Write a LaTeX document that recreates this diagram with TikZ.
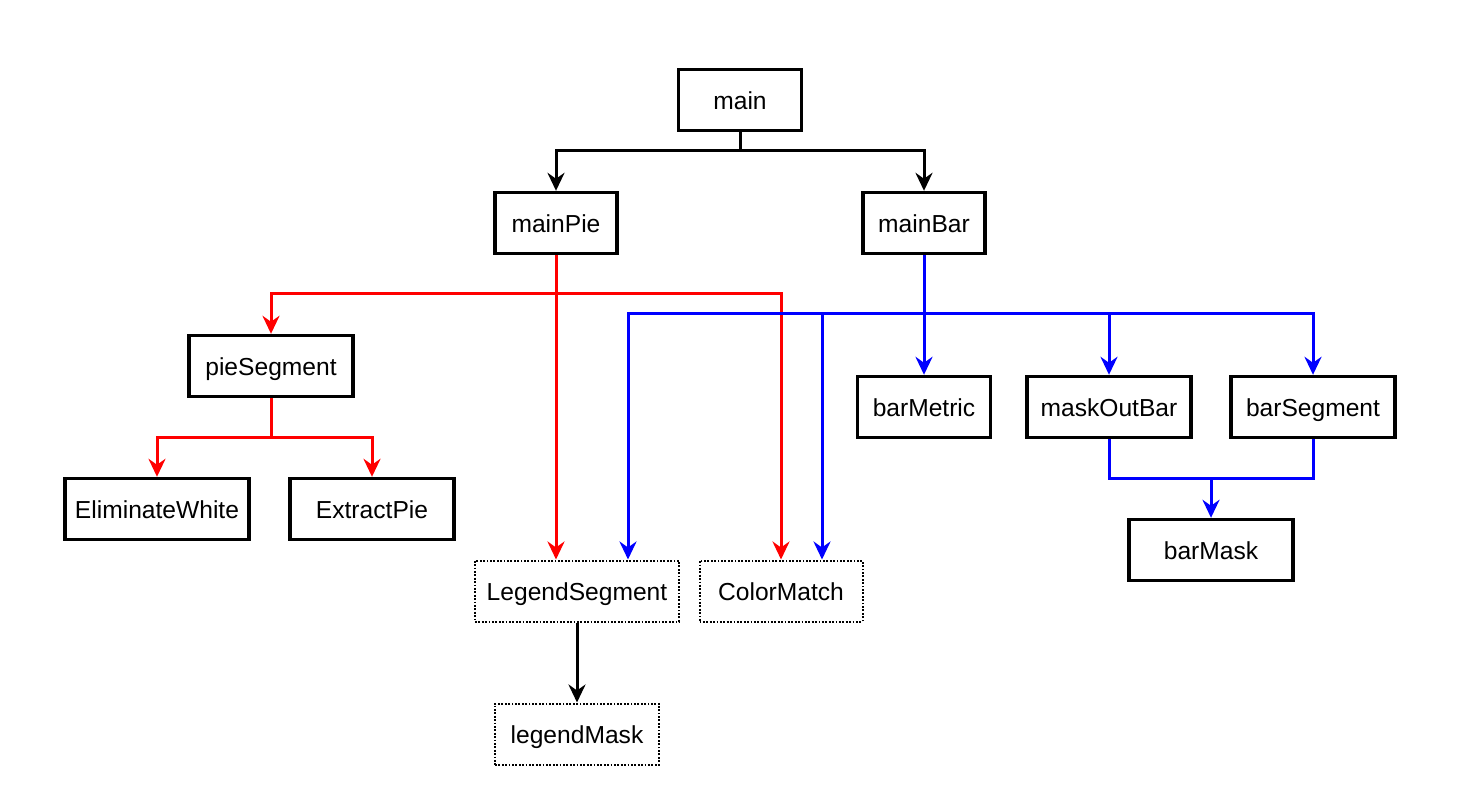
\documentclass[tikz,border=0pt]{standalone}
\usepackage{fontspec}
\setmainfont{Liberation Sans}
\usetikzlibrary{arrows.meta,calc}
\begin{document}
\begin{tikzpicture}[x=1pt,y=-1pt,
  txt/.style={inner sep=0pt,minimum height=61pt,text height=18.6pt,text depth=0pt,font=\fontsize{24.6}{29}\selectfont},
  box/.style={txt,draw=black,line width=3.4pt},
  dbox/.style={txt,draw=black,line width=2pt,dash pattern=on 1.8pt off 1.6pt},
  conn/.style={line width=3pt,-{Stealth[length=18pt,width=17pt,inset=6pt]}},
  plain/.style={line width=3pt},
  redc/.style={draw=red},
  bluec/.style={draw=blue}]
\useasboundingbox (0,0) rectangle (1478,810);
\node[box,minimum width=123pt] (main) at (740,100) {main};
\node[box,minimum width=122pt] (mainPie) at (556,223) {mainPie};
\node[box,minimum width=122pt] (mainBar) at (924,223) {mainBar};
\node[box,minimum width=164pt] (pieSegment) at (271,366) {pieSegment};
\node[box,minimum width=184pt] (EliminateWhite) at (157,509) {EliminateWhite};
\node[box,minimum width=164pt] (ExtractPie) at (372,509) {ExtractPie};
\node[dbox,minimum width=204pt] (LegendSegment) at (577,591) {LegendSegment};
\node[dbox,minimum width=163pt] (ColorMatch) at (781,591) {ColorMatch};
\node[dbox,minimum width=164pt] (legendMask) at (577,734) {legendMask};
\node[box,minimum width=133pt] (barMetric) at (924,407) {barMetric};
\node[box,minimum width=164pt] (maskOutBar) at (1109,407) {maskOutBar};
\node[box,minimum width=164pt] (barSegment) at (1313,407) {barSegment};
\node[box,minimum width=164pt] (barMask) at (1211,550) {barMask};

\coordinate (j1) at (740,151);
\coordinate (r1) at (556,294);
\coordinate (b1) at (924,314);
\coordinate (p1) at (271,437);
\coordinate (m1) at (1211,478);

% black
\draw[plain] (main.south) -- (j1);
\draw[conn] (j1) -| (mainPie.north);
\draw[conn] (j1) -| (mainBar.north);
\draw[conn] (LegendSegment.south) -- (legendMask.north);

% red
\draw[conn,redc] (mainPie.south) -- (mainPie.south |- LegendSegment.north);
\draw[conn,redc] (r1) -| (pieSegment.north);
\draw[conn,redc] (r1) -| (ColorMatch.north);
\draw[plain,redc] (pieSegment.south) -- (p1);
\draw[conn,redc] (p1) -| (EliminateWhite.north);
\draw[conn,redc] (p1) -| (ExtractPie.north);

% blue
\draw[conn,bluec] (mainBar.south) -- (barMetric.north);
\draw[conn,bluec] (b1) -| ($(LegendSegment.north)+(51,0)$);
\draw[conn,bluec] (b1) -| ($(ColorMatch.north)+(41,0)$);
\draw[conn,bluec] (b1) -| (maskOutBar.north);
\draw[conn,bluec] (b1) -| (barSegment.north);
\draw[plain,bluec] (maskOutBar.south) |- (m1) -| (barSegment.south);
\draw[conn,bluec] (m1) -- (barMask.north);
\end{tikzpicture}
\end{document}
